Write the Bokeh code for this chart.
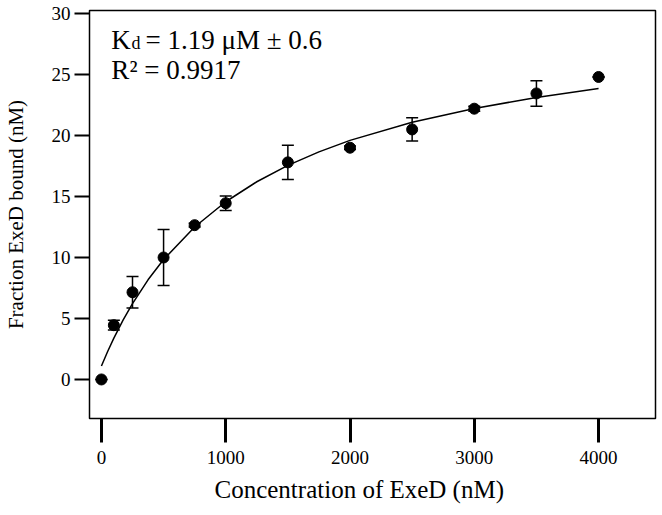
from bokeh.plotting import figure
from bokeh.models import Range1d, FixedTicker, Whisker, ColumnDataSource, Label, TeeHead, Title
from bokeh.embed import file_html
from bokeh.resources import INLINE

# data
conc = [0, 100, 250, 500, 750, 1000, 1500, 2000, 2500, 3000, 3500, 4000]
bound = [0.0, 4.45, 7.15, 10.0, 12.65, 14.45, 17.8, 19.0, 20.5, 22.2, 23.45, 24.8]
err = [0.0, 0.4, 1.3, 2.3, 0.15, 0.6, 1.4, 0.15, 0.95, 0.2, 1.05, 0.0]

fit_x = [0, 50, 100, 175, 250, 375, 500, 750, 1000, 1250, 1500, 1750, 2000, 2500, 3000, 3500, 4000]
fit_y = [1.10, 2.29, 3.39, 4.88, 6.22, 8.17, 9.83, 12.50, 14.57, 16.21, 17.55, 18.66, 19.60, 21.09, 22.22, 23.12, 23.85]

x_ticks = [0, 1000, 2000, 3000, 4000]
y_ticks = [0, 5, 10, 15, 20, 25, 30]

x_title = "Concentration of ExeD (nM)"
y_title = "Fraction ExeD bound (nM)"

FONT = "Liberation Serif"

p = figure(width=658, height=512, output_backend="svg", toolbar_location=None,
           x_range=Range1d(-96, 4458), y_range=Range1d(-3.2, 30.25),
           min_border_left=88, min_border_right=3, min_border_top=10, min_border_bottom=94)

p.grid.visible = False
p.background_fill_color = "white"
p.border_fill_color = "white"
p.outline_line_color = "black"
p.outline_line_width = 1.5

for ax in (p.xaxis[0], p.yaxis[0]):
    ax.axis_line_color = None
    ax.minor_tick_line_color = None
    ax.major_tick_in = 0
    ax.major_tick_line_color = "black"
    ax.major_label_text_font = FONT
    ax.major_label_text_color = "black"
    ax.axis_label_text_font = FONT
    ax.axis_label_text_font_style = "normal"
    ax.axis_label_text_color = "black"

p.xaxis.ticker = FixedTicker(ticks=x_ticks)
p.yaxis.ticker = FixedTicker(ticks=y_ticks)
p.xaxis.major_tick_out = 24
p.xaxis.major_tick_line_width = 3
p.yaxis.major_tick_out = 15
p.yaxis.major_tick_line_width = 2
p.xaxis.major_label_text_font_size = "19px"
p.yaxis.major_label_text_font_size = "19px"
p.xaxis.major_label_standoff = 8
p.yaxis.major_label_standoff = 4
p.yaxis.axis_label = y_title
p.yaxis.axis_label_text_font_size = "21px"
p.yaxis.axis_label_standoff = 21

# x-axis title, placed where the reference puts it (left of centre)
p.add_layout(Title(text=x_title, text_font=FONT, text_font_size="25px", text_font_style="normal",
                   text_color="black", align="left", offset=125, standoff=15), "below")

p.line(fit_x, fit_y, line_color="black", line_width=1.5)

lower = [b - e for b, e in zip(bound, err)]
upper = [b + e for b, e in zip(bound, err)]
src = ColumnDataSource(dict(x=conc, y=bound, lower=lower, upper=upper))
w = Whisker(base="x", lower="lower", upper="upper", source=src,
            line_color="black", line_width=1.5,
            lower_head=TeeHead(size=12, line_color="black", line_width=1.5),
            upper_head=TeeHead(size=12, line_color="black", line_width=1.5))
p.add_layout(w)
p.scatter("x", "y", source=src, size=11, marker="circle", fill_color="black", line_color="black")

p.add_layout(Label(x=80, y=27.8, text="K", text_font=FONT, text_font_size="27px",
                   text_color="black", text_baseline="alphabetic"))
p.add_layout(Label(x=241, y=27.55, text="d", text_font=FONT, text_font_size="18px",
                   text_color="black", text_baseline="alphabetic"))
p.add_layout(Label(x=354, y=27.8, text="= 1.19 \u03bcM \u00b1 0.6", text_font=FONT, text_font_size="27px",
                   text_color="black", text_baseline="alphabetic"))
p.add_layout(Label(x=80, y=25.4, text="R\u00b2 = 0.9917", text_font=FONT, text_font_size="27px",
                   text_color="black", text_baseline="alphabetic"))

open("out.html", "w").write(file_html(p, INLINE))
